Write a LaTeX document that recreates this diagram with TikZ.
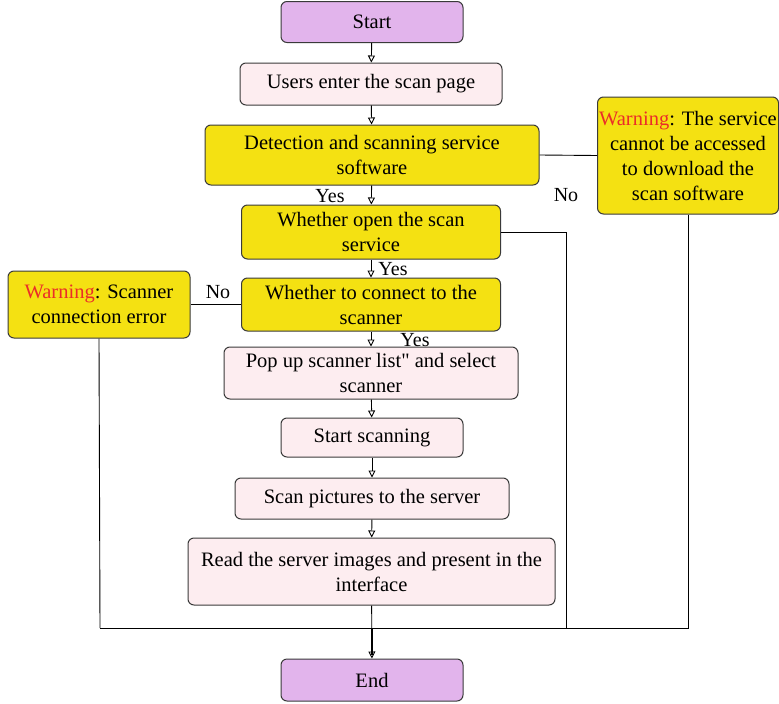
\documentclass[tikz,border=0pt]{standalone}
\usepackage{fontspec}
\setmainfont{Liberation Serif}
\newfontfamily\plainserif{Liberation Serif}[Ligatures=ResetAll]
\usetikzlibrary{arrows.meta}
\definecolor{cpurple}{RGB}{226,180,236}
\definecolor{cpink}{RGB}{253,237,240}
\definecolor{cyellow}{RGB}{244,225,18}
\definecolor{cborder}{RGB}{58,58,58}
\definecolor{cwarn}{RGB}{235,45,40}
\tikzset{
  base/.style={draw=cborder, line width=1pt, rounded corners=6pt, align=center, inner sep=1pt,
    font=\fontsize{20.5}{25}\selectfont, text=black},
  term/.style={base, fill=cpurple},
  proc/.style={base, fill=cpink},
  dec/.style={base, fill=cyellow},
  arr/.style={line width=0.9pt, draw=black, -{Triangle[open,length=7pt,width=7pt]}},
  ln/.style={line width=0.9pt, draw=black},
  lab/.style={font=\fontsize{20}{22}\selectfont, inner sep=0pt}
}
\begin{document}
\begin{tikzpicture}[x=1pt,y=-1pt]
\useasboundingbox (0,0) rectangle (779,704);
\node[term, minimum width=182, minimum height=41] (start) at (372,22) {Start};
\node[proc, minimum width=262, minimum height=42] (users) at (371,84) {Users enter the scan page};
\node[dec, minimum width=334, minimum height=60] (detect) at (372,155) {Detection and scanning service\\software};
\node[dec, minimum width=181, minimum height=117] (warnr) at (688,155.5) {\textcolor{cwarn}{Warning}: The service\\cannot be accessed\\to download the\\scan software};
\node[dec, minimum width=259, minimum height=54] (open) at (371,232) {Whether open the scan\\service};
\node[dec, minimum width=259, minimum height=53] (conn) at (371,304.5) {Whether to connect to the\\scanner};
\node[dec, minimum width=182, minimum height=67] (warnl) at (99,304.5) {\textcolor{cwarn}{Warning}: Scanner\\connection error};
\node[proc, minimum width=294, minimum height=52] (pop) at (371,373) {Pop up scanner list{\plainserif\symbol{"22}} and select\\scanner};
\node[proc, minimum width=182, minimum height=39] (sscan) at (372,437.5) {Start scanning};
\node[proc, minimum width=274, minimum height=41] (spic) at (372,498.5) {Scan pictures to the server};
\node[proc, minimum width=367, minimum height=67] (read) at (371.5,571.5) {Read the server images and present in the\\interface};
\node[term, minimum width=182, minimum height=42] (end) at (372,680) {End};

\coordinate (jr) at (688,628);
\coordinate (jl) at (100,628);
\coordinate (jm) at (566,628);
\coordinate (om) at (566,232);

\draw[arr] (start) -- (users);
\draw[arr] (users) -- (detect);
\draw[arr] (detect) -- (open);
\draw[arr] (open) -- (conn);
\draw[arr] (conn) -- (pop);
\draw[arr] (pop) -- (sscan);
\draw[arr] (sscan) -- (spic);
\draw[arr] (spic) -- (read);
\draw[arr] (read) -- (end);
\draw[ln, line width=1.6pt] (372,628) -- (372,655);

\draw[ln] (detect.east) -- (warnr.west);
\draw[ln] (open.east) -- (om) -- (jm);
\draw[ln] (warnr.south) -- (jr) -- (jl);
\draw[ln] (conn.west) -- (warnl.east);
\draw[ln] (warnl.south) -- (jl);

\node[lab] (no1) at (566,195) {No};
\node[lab] (no2) at (218,292) {No};
\node[lab] (yes1) at (330,196) {Yes};
\node[lab] (yes2) at (393,269) {Yes};
\node[lab] (yes3) at (415,340) {Yes};
\end{tikzpicture}
\end{document}
